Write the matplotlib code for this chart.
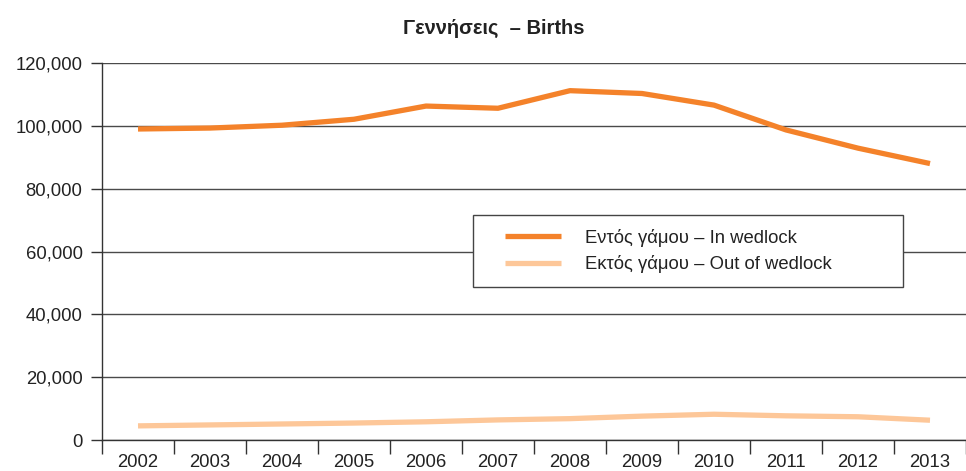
import numpy as np
import matplotlib.pyplot as plt
from matplotlib.ticker import FuncFormatter, FixedLocator
from matplotlib.legend_handler import HandlerLine2D

plt.rcParams['font.family'] = ['Liberation Sans', 'DejaVu Sans']

# Γεννήσεις ανά έτος
years = ['2002', '2003', '2004', '2005', '2006', '2007',
         '2008', '2009', '2010', '2011', '2012', '2013']
in_wedlock = [99000, 99300, 100200, 102100, 106300, 105600,
              111200, 110300, 106600, 98700, 92900, 88000]
out_wedlock = [4500, 4800, 5100, 5400, 5800, 6400,
               6800, 7600, 8200, 7700, 7400, 6300]

label_in = 'Εντός γάμου – In wedlock'
label_out = 'Εκτός γάμου – Out of wedlock'

fig = plt.figure(figsize=(9.66, 4.71), dpi=100)
ax = fig.add_axes([0.1056, 0.0658, 0.8944, 0.8004])

x = np.arange(len(years))
l1, = ax.plot(x, in_wedlock, color='#F4822A', lw=3.8, label=label_in,
              zorder=3, solid_capstyle='butt')
l2, = ax.plot(x, out_wedlock, color='#FDC799', lw=3.8, label=label_out,
              zorder=3, solid_capstyle='butt')

ax.set_xlim(-0.5, len(years) - 0.5)
ax.set_ylim(0, 120000)
ax.set_yticks(np.arange(0, 120001, 20000))
ax.yaxis.set_major_formatter(FuncFormatter(lambda v, p: f'{int(v):,}'))
ax.grid(axis='y', color='#4a4a4a', lw=1.0, zorder=1)

ax.set_xticks(x)
ax.set_xticklabels(years)
ax.xaxis.set_minor_locator(FixedLocator(np.arange(-0.5, len(years), 1.0)))
ax.tick_params(axis='x', which='major', length=0, pad=10, labelsize=13.3,
               colors='#222222')
ax.tick_params(axis='x', which='minor', length=10, width=1.0, color='#333333')
ax.tick_params(axis='y', length=8, width=1.0, color='#333333', pad=6,
               labelsize=13.3, labelcolor='#222222')

for s in ['top', 'right']:
    ax.spines[s].set_visible(False)
for s in ['left', 'bottom']:
    ax.spines[s].set_color('#333333')
    ax.spines[s].set_linewidth(1.0)

hmap = {l1: HandlerLine2D(xpad=0.98), l2: HandlerLine2D(xpad=0.98)}
leg = ax.legend(loc='upper left', bbox_to_anchor=(0.429, 0.0, 0.498, 0.597),
                mode='expand', fontsize=13.3, frameon=True, fancybox=False,
                edgecolor='#444444', framealpha=1.0, handlelength=4.02,
                handletextpad=1.33, borderpad=0.75, labelspacing=0.45,
                borderaxespad=0, handler_map=hmap)
leg.get_frame().set_linewidth(1.0)
leg.set_zorder(5)
for t in leg.get_texts():
    t.set_color('#222222')

fig.text(0.511, 0.940, 'Γεννήσεις  – Births', ha='center', va='center',
         fontsize=14.5, fontweight='bold', color='#222222')

fig.savefig('out.png', dpi=100)
